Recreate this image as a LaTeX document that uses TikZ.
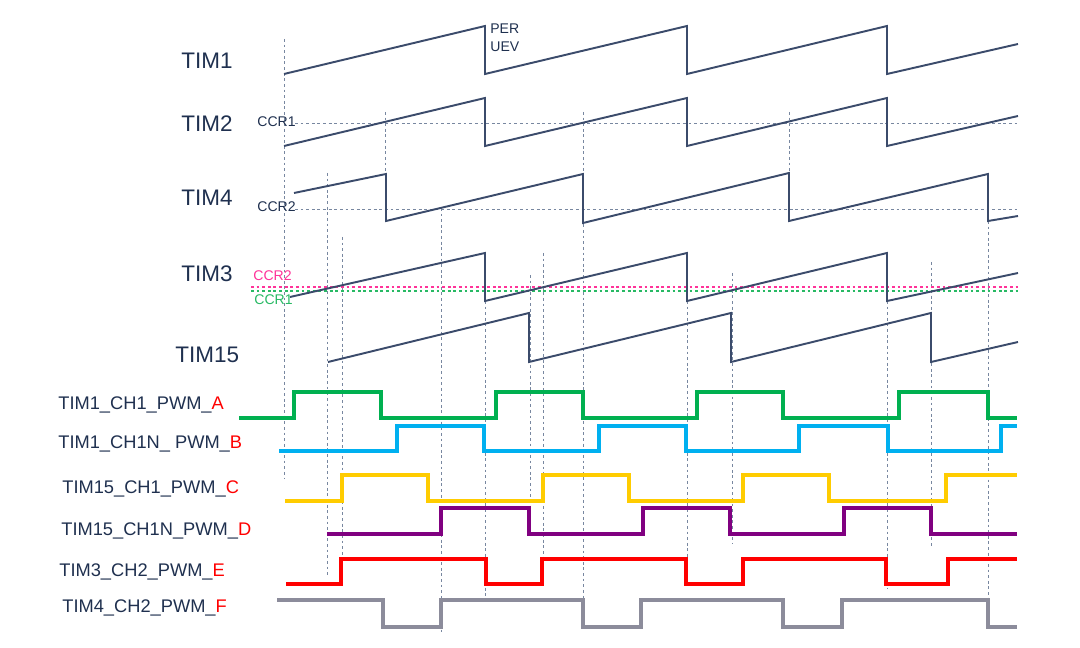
\documentclass[tikz,border=0pt]{standalone}
\usepackage{fontspec}
\setmainfont{Liberation Sans}
\usepackage{xcolor}
\usepackage{tikz}
\usetikzlibrary{calc, positioning}

\definecolor{sawblue}{RGB}{59,75,107}
\definecolor{navy}{RGB}{31,48,79}
\definecolor{guidegray}{RGB}{120,135,160}
\definecolor{pwmgreen}{RGB}{0,176,80}
\definecolor{pwmblue}{RGB}{0,176,240}
\definecolor{pwmyellow}{RGB}{255,204,0}
\definecolor{pwmpurple}{RGB}{128,0,128}
\definecolor{pwmred}{RGB}{255,0,0}
\definecolor{pwmgray}{RGB}{140,140,155}
\definecolor{ccrpink}{RGB}{255,51,153}
\definecolor{ccrgreen}{RGB}{40,185,100}

\begin{document}
\begin{tikzpicture}[x=0.02cm, y=-0.02cm,
    saw/.style={draw=sawblue, line width=1.1pt},
    guide/.style={draw=guidegray, line width=0.5pt, dash pattern=on 1.6pt off 1.6pt},
    pwm/.style={line width=2.1pt},
    timlbl/.style={anchor=base west, inner sep=0pt, text=navy, font=\fontsize{12.8}{15}\selectfont},
    pwmlbl/.style={anchor=base west, inner sep=0pt, text=navy, font=\fontsize{10.4}{12}\selectfont},
    ccrlbl/.style={anchor=base west, inner sep=0pt, font=\fontsize{8}{9.5}\selectfont}]
    \useasboundingbox (0,0) rectangle (1080,648);

    % Đường gióng dọc
    \draw[guide] (284,39) -- (284,479);
    \draw[guide] (327,173) -- (327,575);
    \draw[guide] (342,237) -- (342,559);
    \draw[guide] (385,112) -- (385,174);
    \draw[guide] (441,208) -- (441,633);
    \draw[guide] (485,301) -- (485,603);
    \draw[guide] (530,275) -- (530,534);
    \draw[guide] (543,253) -- (543,559);
    \draw[guide] (583,112) -- (583,600);
    \draw[guide] (687,301) -- (687,559);
    \draw[guide] (732,273) -- (732,543);
    \draw[guide] (789,112) -- (789,173);
    \draw[guide] (887,301) -- (887,588);
    \draw[guide] (931,262) -- (931,548);
    \draw[guide] (988,221) -- (988,600);

    % Đường ngưỡng CCR
    \draw[guide] (295,123) -- (1018,123);
    \draw[guide] (295,209) -- (1018,209);
    \draw[guide, draw=ccrpink, line width=0.7pt] (251,287) -- (1018,287);
    \draw[guide, draw=ccrgreen, line width=0.7pt] (251,291) -- (1018,291);

    % Răng cưa các timer
    \draw[saw] (284,74) -- (485,26) -- (485,74) -- (687,26) -- (687,74) -- (887,26) -- (887,74) -- (1018,44);
    \draw[saw] (284,146) -- (485,98) -- (485,146) -- (687,98) -- (687,146) -- (887,98) -- (887,146) -- (1018,116);
    \draw[saw] (294,193) -- (386,174) -- (386,221) -- (583,174) -- (583,223) -- (789,173) -- (789,221) -- (988,174) -- (988,221) -- (1018,216);
    \draw[saw] (290,297) -- (485,253) -- (485,301) -- (687,253) -- (687,301) -- (887,253) -- (887,301) -- (1018,273);
    \draw[saw] (328,362) -- (529,313) -- (529,362) -- (731,313) -- (731,362) -- (931,313) -- (931,362) -- (1018,342);

    % Tín hiệu PWM
    \draw[pwm, pwmgreen] (239,418) -| (294,392) -| (381,418) -| (496,392) -| (583,418) -| (697,392) -| (783,418) -| (899,392) -| (988,418) -- (1017,418);
    \draw[pwm, pwmblue] (279,451) -| (397,426) -| (484,451) -| (599,426) -| (686,451) -| (799,426) -| (888,451) -| (1001,426) -- (1017,426);
    \draw[pwm, pwmyellow] (285,501) -| (342,475) -| (428,501) -| (543,475) -| (629,501) -| (743,475) -| (829,501) -| (946,475) -- (1017,475);
    \draw[pwm, pwmpurple] (327,534) -| (441,508) -| (529,534) -| (643,508) -| (730,534) -| (844,508) -| (931,534) -- (1017,534);
    \draw[pwm, pwmred] (286,584) -| (341,559) -| (486,584) -| (542,559) -| (686,584) -| (743,559) -| (886,584) -| (948,559) -- (1017,559);
    \draw[pwm, pwmgray] (277,600) -| (383,627) -| (441,600) -| (583,627) -| (641,600) -| (783,627) -| (842,600) -| (988,627) -- (1017,627);

    % Nhãn timer
    \node[timlbl] (tim1) at (181,69) {TIM1};
    \node[timlbl] (tim2) at (181,132) {TIM2};
    \node[timlbl] (tim4) at (181,206) {TIM4};
    \node[timlbl] (tim3) at (181,282) {TIM3};
    \node[timlbl] (tim15) at (175,363) {TIM15};

    % Nhãn CCR, PER
    \node[ccrlbl, text=navy] (per) at (490,34) {PER};
    \node[ccrlbl, text=navy] (uev) at (490,52) {UEV};
    \node[ccrlbl, text=navy] (ccr1a) at (257,127) {CCR1};
    \node[ccrlbl, text=navy] (ccr2a) at (257,212) {CCR2};
    \node[ccrlbl, text=ccrpink] (ccr2b) at (253,281) {CCR2};
    \node[ccrlbl, text=ccrgreen] (ccr1b) at (254,305) {CCR1};

    % Nhãn tín hiệu
    \node[pwmlbl] (pwma) at (58,410) {TIM1\_CH1\_PWM\_\textcolor{pwmred}{A}};
    \node[pwmlbl] (pwmb) at (58,449) {TIM1\_CH1N\_ PWM\_\textcolor{pwmred}{B}};
    \node[pwmlbl] (pwmc) at (62,494) {TIM15\_CH1\_PWM\_\textcolor{pwmred}{C}};
    \node[pwmlbl] (pwmd) at (61,536) {TIM15\_CH1N\_PWM\_\textcolor{pwmred}{D}};
    \node[pwmlbl] (pwme) at (59,577) {TIM3\_CH2\_PWM\_\textcolor{pwmred}{E}};
    \node[pwmlbl] (pwmf) at (62,613) {TIM4\_CH2\_PWM\_\textcolor{pwmred}{F}};
\end{tikzpicture}
\end{document}
